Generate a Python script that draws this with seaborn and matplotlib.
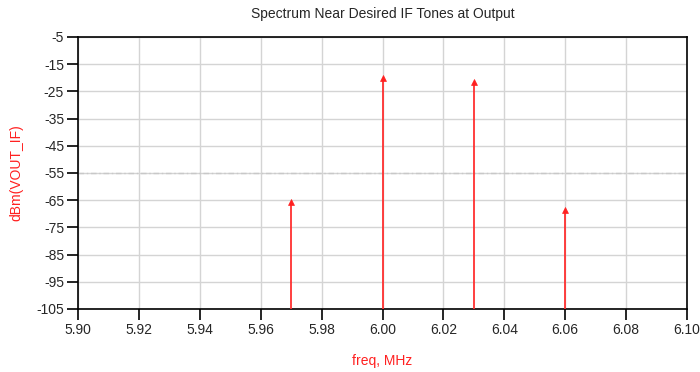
import matplotlib
matplotlib.use("Agg")
import matplotlib.pyplot as plt
import seaborn as sns
import pandas as pd
import numpy as np

freq_mhz = [5.97, 6.00, 6.03, 6.06]
dbm_vout_if = [-65.5, -20.0, -21.5, -68.5]
threshold_dbm = -55
x_ticks = [5.90, 5.92, 5.94, 5.96, 5.98, 6.00, 6.02, 6.04, 6.06, 6.08, 6.10]
y_ticks = [-105, -95, -85, -75, -65, -55, -45, -35, -25, -15, -5]

sns.set_style("white")
plt.rcParams['font.family'] = ['Liberation Sans', 'DejaVu Sans']

df = pd.DataFrame({"freq": freq_mhz, "dbm": dbm_vout_if})

fig = plt.figure(figsize=(7.0, 3.72), dpi=100)
ax = fig.add_axes([78/700, 63/372, 609/700, 272/372])

ax.set_xlim(5.90, 6.10)
ax.set_ylim(-105, -5)
ax.set_xticks(x_ticks)
ax.set_yticks(y_ticks)
ax.set_xticklabels([f"{v:.2f}" for v in x_ticks], fontsize=10)
ax.set_yticklabels([str(v) for v in y_ticks], fontsize=10)
ax.grid(True, color="#d4d4d4", linewidth=1.0)
ax.set_axisbelow(True)

ax.axhline(threshold_dbm, color="#c8c8c8", linewidth=1.0, linestyle=(0, (4, 2, 1, 2)), zorder=1)

ax.vlines(df["freq"], -105, df["dbm"], color="#ff3030", linewidth=1.3, zorder=3)
sns.scatterplot(data=df, x="freq", y="dbm", marker="^", color="#ff2020", s=18,
                edgecolor="#ff2020", linewidth=0.5, ax=ax, zorder=4, legend=False)

for s in ax.spines.values():
    s.set_color("black")
    s.set_linewidth(1.2)
    s.set_visible(True)
ax.tick_params(axis="both", which="major", direction="out", length=8, width=1.2,
               color="black", left=True, bottom=True, pad=2)

ax.set_xlabel("freq, MHz", color="#ff2020", fontsize=10, labelpad=12)
ax.set_ylabel("dBm(VOUT_IF)", color="#ff2020", fontsize=10, labelpad=9)
ax.set_title("Spectrum Near Desired IF Tones at Output", fontsize=10, pad=14)

fig.savefig("out.png", dpi=100)
